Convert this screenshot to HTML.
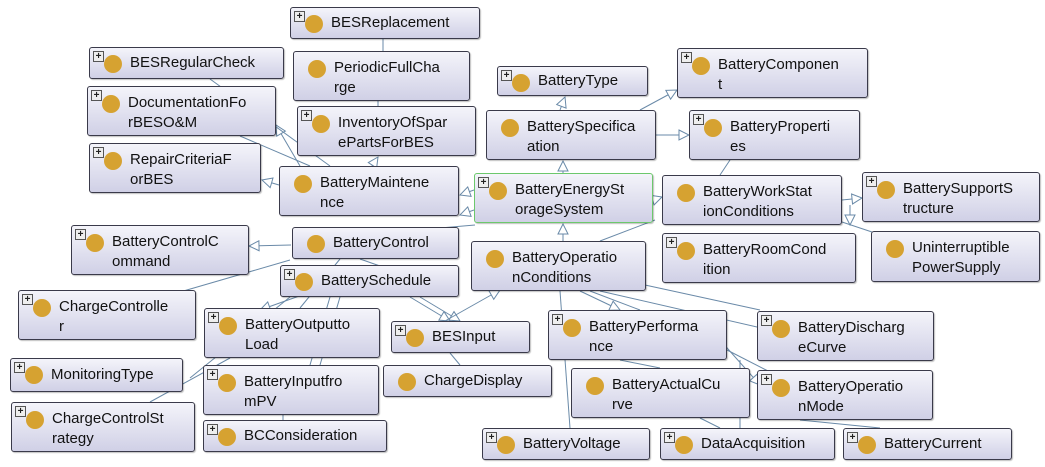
<!DOCTYPE html>
<html><head><meta charset="utf-8"><style>
body{margin:0;width:1045px;height:467px;background:#fff;position:relative;overflow:hidden;font-family:"Liberation Sans",sans-serif}
.n{position:absolute;box-sizing:border-box;border:1px solid #3a3a4a;border-radius:3px;background:linear-gradient(#f4f4fa,#d0d0e6);font-size:15px;color:#111;line-height:20px;padding-left:40px;padding-top:5px;box-shadow:1px 1px 1px rgba(0,0,0,.25);white-space:nowrap}
.n.g{border:1.5px solid #6cc86c}
.n i{position:absolute;left:14px;width:18px;height:18px;border-radius:50%;background:#d6a231;top:7px}
.n.t{padding-top:6px}
.n.t i{top:8px}
.n b{position:absolute;left:3px;top:3px;width:9px;height:9px;border:1px solid #555;background:#eee;font-size:10px;line-height:9px;text-align:center;font-weight:bold;color:#222}
svg{position:absolute;left:0;top:0}
</style></head><body>
<svg width="1045" height="467"><defs><marker id="a" viewBox="0 0 12 12" refX="11" refY="6" markerWidth="12" markerHeight="12" orient="auto" markerUnits="userSpaceOnUse"><path d="M1,1 L11,6 L1,11 Z" fill="#fff" stroke="#6a8aa8" stroke-width="1"/></marker></defs>
<g stroke="#6a8aa8" stroke-width="1" fill="none">
<line x1="563" y1="173" x2="563" y2="161" marker-end="url(#a)"/>
<line x1="560" y1="110" x2="565" y2="97" marker-end="url(#a)"/>
<line x1="640" y1="110" x2="677" y2="90" marker-end="url(#a)"/>
<line x1="656" y1="135" x2="689" y2="135" marker-end="url(#a)"/>
<line x1="730" y1="160" x2="720" y2="175"/>
<line x1="653" y1="200" x2="662" y2="197" marker-end="url(#a)"/>
<line x1="842" y1="200" x2="862" y2="198" marker-end="url(#a)"/>
<line x1="850" y1="205" x2="850" y2="225" marker-end="url(#a)"/>
<line x1="842" y1="222" x2="872" y2="232"/>
<line x1="474" y1="190" x2="460" y2="195" marker-end="url(#a)"/>
<line x1="474" y1="210" x2="460" y2="215" marker-end="url(#a)"/>
<line x1="300" y1="166" x2="276" y2="125" marker-end="url(#a)"/>
<line x1="279" y1="185" x2="262" y2="180" marker-end="url(#a)"/>
<line x1="372" y1="166" x2="378" y2="157" marker-end="url(#a)"/>
<line x1="210" y1="79" x2="330" y2="166"/>
<line x1="240" y1="136" x2="310" y2="166"/>
<line x1="383" y1="39" x2="383" y2="51"/>
<line x1="378" y1="101" x2="378" y2="106"/>
<line x1="475" y1="225" x2="440" y2="228"/>
<line x1="291" y1="245" x2="249" y2="246" marker-end="url(#a)"/>
<line x1="563" y1="241" x2="563" y2="224" marker-end="url(#a)"/>
<line x1="600" y1="241" x2="655" y2="220"/>
<line x1="360" y1="259" x2="380" y2="266"/>
<line x1="290" y1="260" x2="180" y2="292"/>
<line x1="330" y1="285" x2="260" y2="310" marker-end="url(#a)"/>
<line x1="340" y1="259" x2="300" y2="308"/>
<line x1="330" y1="297" x2="310" y2="365"/>
<line x1="340" y1="297" x2="320" y2="365"/>
<line x1="290" y1="297" x2="190" y2="378"/>
<line x1="230" y1="358" x2="150" y2="402"/>
<line x1="420" y1="297" x2="460" y2="321" marker-end="url(#a)"/>
<line x1="410" y1="297" x2="450" y2="321" marker-end="url(#a)"/>
<line x1="445" y1="321" x2="500" y2="290" marker-end="url(#a)"/>
<line x1="450" y1="353" x2="460" y2="365"/>
<line x1="283" y1="415" x2="283" y2="420"/>
<line x1="580" y1="291" x2="620" y2="310" marker-end="url(#a)"/>
<line x1="590" y1="291" x2="640" y2="310"/>
<line x1="600" y1="291" x2="770" y2="330" marker-end="url(#a)"/>
<line x1="560" y1="291" x2="570" y2="428"/>
<line x1="645" y1="285" x2="760" y2="310"/>
<line x1="720" y1="340" x2="760" y2="385" marker-end="url(#a)"/>
<line x1="727" y1="350" x2="770" y2="372"/>
<line x1="620" y1="360" x2="660" y2="368"/>
<line x1="700" y1="418" x2="720" y2="428"/>
<line x1="800" y1="420" x2="880" y2="428"/>
<line x1="740" y1="360" x2="740" y2="428"/>
</g></svg>

<div class="n" style="left:290px;top:7px;width:190px;height:32px"><b>+</b><i></i>BESReplacement</div>
<div class="n" style="left:89px;top:47px;width:195px;height:32px"><b>+</b><i></i>BESRegularCheck</div>
<div class="n t" style="left:293px;top:51px;width:177px;height:50px"><i></i>PeriodicFullCha<br>rge</div>
<div class="n t" style="left:87px;top:86px;width:189px;height:50px"><b>+</b><i></i>DocumentationFo<br>rBESO&amp;M</div>
<div class="n t" style="left:297px;top:106px;width:179px;height:50px"><b>+</b><i></i>InventoryOfSpar<br>ePartsForBES</div>
<div class="n t" style="left:89px;top:143px;width:172px;height:50px"><b>+</b><i></i>RepairCriteriaF<br>orBES</div>
<div class="n t" style="left:279px;top:166px;width:180px;height:50px"><i></i>BatteryMaintene<br>nce</div>
<div class="n t g" style="left:474px;top:173px;width:179px;height:50px"><b>+</b><i></i>BatteryEnergySt<br>orageSystem</div>
<div class="n" style="left:497px;top:66px;width:151px;height:30px;padding-top:4px"><b>+</b><i></i>BatteryType</div>
<div class="n t" style="left:677px;top:48px;width:191px;height:50px"><b>+</b><i></i>BatteryComponen<br>t</div>
<div class="n t" style="left:486px;top:110px;width:170px;height:50px"><i></i>BatterySpecifica<br>ation</div>
<div class="n t" style="left:689px;top:110px;width:171px;height:50px"><b>+</b><i></i>BatteryProperti<br>es</div>
<div class="n t" style="left:662px;top:175px;width:180px;height:50px"><i></i>BatteryWorkStat<br>ionConditions</div>
<div class="n t" style="left:862px;top:172px;width:178px;height:50px"><b>+</b><i></i>BatterySupportS<br>tructure</div>
<div class="n t" style="left:662px;top:233px;width:194px;height:50px"><b>+</b><i></i>BatteryRoomCond<br>ition</div>
<div class="n t" style="left:871px;top:231px;width:169px;height:51px"><i></i>Uninterruptible<br>PowerSupply</div>
<div class="n t" style="left:71px;top:225px;width:178px;height:50px"><b>+</b><i></i>BatteryControlC<br>ommand</div>
<div class="n" style="left:292px;top:227px;width:167px;height:32px"><i></i>BatteryControl</div>
<div class="n t" style="left:471px;top:241px;width:175px;height:50px"><i></i>BatteryOperatio<br>nConditions</div>
<div class="n" style="left:280px;top:265px;width:179px;height:32px"><b>+</b><i></i>BatterySchedule</div>
<div class="n t" style="left:18px;top:290px;width:178px;height:50px"><b>+</b><i></i>ChargeControlle<br>r</div>
<div class="n t" style="left:204px;top:308px;width:176px;height:50px"><b>+</b><i></i>BatteryOutputto<br>Load</div>
<div class="n" style="left:391px;top:321px;width:139px;height:32px"><b>+</b><i></i>BESInput</div>
<div class="n t" style="left:548px;top:310px;width:179px;height:50px"><b>+</b><i></i>BatteryPerforma<br>nce</div>
<div class="n t" style="left:757px;top:311px;width:177px;height:50px"><b>+</b><i></i>BatteryDischarg<br>eCurve</div>
<div class="n" style="left:10px;top:358px;width:173px;height:34px;padding-top:6px"><b>+</b><i></i>MonitoringType</div>
<div class="n" style="left:383px;top:365px;width:169px;height:32px"><i></i>ChargeDisplay</div>
<div class="n t" style="left:203px;top:365px;width:176px;height:50px"><b>+</b><i></i>BatteryInputfro<br>mPV</div>
<div class="n t" style="left:571px;top:368px;width:179px;height:50px"><i></i>BatteryActualCu<br>rve</div>
<div class="n t" style="left:757px;top:370px;width:176px;height:50px"><b>+</b><i></i>BatteryOperatio<br>nMode</div>
<div class="n t" style="left:11px;top:402px;width:184px;height:50px"><b>+</b><i></i>ChargeControlSt<br>rategy</div>
<div class="n" style="left:203px;top:420px;width:184px;height:32px"><b>+</b><i></i>BCConsideration</div>
<div class="n" style="left:482px;top:428px;width:168px;height:32px"><b>+</b><i></i>BatteryVoltage</div>
<div class="n" style="left:660px;top:428px;width:175px;height:32px"><b>+</b><i></i>DataAcquisition</div>
<div class="n" style="left:843px;top:428px;width:169px;height:32px"><b>+</b><i></i>BatteryCurrent</div>
</body></html>
